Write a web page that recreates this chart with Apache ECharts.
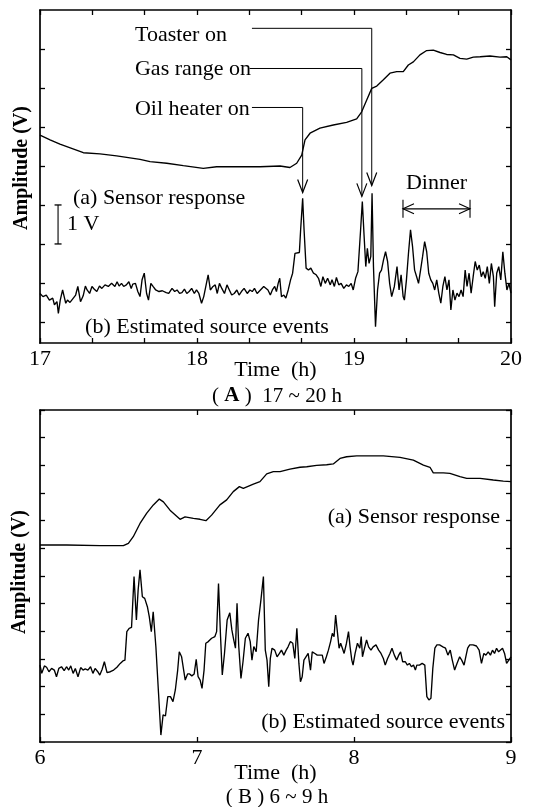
<!DOCTYPE html>
<html><head><meta charset="utf-8">
<script src="https://cdn.jsdelivr.net/npm/echarts@6/dist/echarts.min.js"></script>
<style>html,body{margin:0;padding:0;background:#fff}#c{width:533px;height:807px}</style>
</head><body><div id="c"></div>
<script>
// ---------- DATA ----------
// Panel A (17 ~ 20 h)
const topXTicks = [17, 17.3333, 17.6667, 18, 18.3333, 18.6667, 19, 19.3333, 19.6667, 20];
const topXLabels = [17, 18, 19, 20];
const topYTicks = [0, 1, 2, 3, 4, 5, 6, 7];
const topSensor = [[17.0,4.79],[17.064,4.67],[17.127,4.56],[17.276,4.34],[17.382,4.31],[17.488,4.26],[17.637,4.17],[17.701,4.11],[17.807,4.07],[17.913,4.01],[18.040,3.94],[18.125,3.98],[18.231,3.98],[18.401,3.98],[18.529,4.0],[18.592,3.96],[18.635,4.07],[18.667,4.28],[18.688,4.67],[18.720,4.84],[18.783,4.97],[18.868,5.05],[18.953,5.12],[19.017,5.21],[19.049,5.39],[19.081,5.69],[19.113,5.99],[19.145,6.05],[19.187,6.21],[19.229,6.38],[19.272,6.42],[19.314,6.42],[19.346,6.59],[19.378,6.67],[19.420,6.85],[19.463,6.96],[19.505,6.97],[19.548,6.91],[19.590,6.86],[19.633,6.85],[19.675,6.76],[19.718,6.74],[19.760,6.79],[19.803,6.80],[19.866,6.82],[19.930,6.79],[19.973,6.80],[20.0,6.72]];
const topEvents = [[17.0,0.73],[17.019,0.65],[17.040,0.69],[17.060,0.56],[17.081,0.61],[17.092,0.44],[17.108,0.52],[17.117,0.22],[17.129,0.56],[17.144,0.82],[17.154,0.65],[17.164,0.48],[17.175,0.56],[17.191,0.50],[17.206,0.58],[17.227,0.69],[17.241,0.91],[17.258,0.52],[17.275,0.67],[17.289,0.92],[17.300,0.82],[17.316,0.73],[17.331,0.91],[17.346,0.84],[17.362,0.78],[17.379,0.92],[17.394,0.86],[17.414,0.95],[17.435,0.91],[17.456,0.99],[17.477,0.91],[17.491,1.03],[17.504,0.92],[17.519,0.99],[17.533,0.91],[17.550,0.95],[17.566,1.03],[17.581,0.86],[17.591,0.97],[17.608,0.99],[17.623,0.78],[17.637,0.65],[17.650,1.08],[17.664,1.25],[17.679,0.73],[17.691,0.56],[17.706,0.99],[17.720,0.91],[17.737,0.82],[17.758,0.78],[17.779,0.80],[17.804,0.75],[17.820,0.73],[17.841,0.86],[17.858,0.78],[17.873,0.82],[17.889,0.73],[17.904,0.75],[17.920,0.84],[17.935,0.73],[17.950,0.78],[17.966,0.86],[17.983,0.73],[17.997,0.82],[18.012,0.73],[18.029,0.48],[18.043,0.65],[18.060,0.99],[18.071,1.21],[18.085,0.82],[18.102,0.91],[18.116,0.95],[18.129,0.73],[18.143,0.99],[18.158,0.86],[18.175,0.73],[18.191,0.95],[18.206,0.82],[18.221,0.69],[18.237,0.73],[18.254,0.82],[18.268,0.69],[18.283,0.78],[18.300,0.86],[18.320,0.73],[18.337,0.82],[18.352,0.78],[18.366,0.86],[18.383,0.73],[18.404,0.82],[18.425,0.91],
[18.437,0.86],[18.452,0.82],[18.467,0.69],[18.480,0.82],[18.495,0.91],[18.506,0.78],[18.517,0.99],[18.527,1.12],[18.538,0.65],[18.553,0.69],[18.566,0.61],[18.581,0.82],[18.596,1.08],[18.609,1.25],[18.624,1.76],[18.635,1.78],[18.652,1.78],[18.660,2.36],[18.673,3.17],[18.682,2.36],[18.695,1.38],[18.710,1.33],[18.725,1.38],[18.742,1.25],[18.759,1.21],[18.774,1.12],[18.789,0.91],[18.802,1.16],[18.817,0.99],[18.832,1.12],[18.849,0.95],[18.860,1.08],[18.875,0.91],[18.888,1.14],[18.903,0.95],[18.918,0.99],[18.935,0.86],[18.952,0.95],[18.967,0.91],[18.982,0.99],[18.995,0.82],[19.010,1.12],[19.025,1.29],[19.042,2.36],[19.053,3.09],[19.064,2.23],[19.075,1.42],[19.085,1.89],[19.096,1.50],[19.107,1.68],[19.115,3.30],[19.124,1.42],[19.137,-0.12],[19.150,0.82],[19.163,1.25],[19.175,1.33],[19.188,1.59],[19.201,1.80],[19.214,1.55],[19.227,0.99],[19.240,0.65],[19.257,0.91],[19.274,1.42],[19.287,0.82],[19.300,1.21],[19.313,0.65],[19.321,0.56],[19.334,1.08],[19.347,1.76],[19.360,2.36],[19.373,1.93],[19.386,1.33],[19.399,1.16],[19.411,0.99],[19.424,1.33],[19.437,1.68],[19.450,2.06],[19.463,1.80],[19.476,1.25],[19.489,1.08],[19.502,0.99],[19.514,0.82],[19.527,1.08],[19.540,0.74],[19.553,0.48],[19.566,0.91],[19.579,1.16],[19.592,0.82],[19.605,1.08],[19.617,0.31],[19.630,0.82],[19.643,0.56],[19.656,0.74],[19.669,0.65],[19.682,0.82],[19.695,0.65],[19.708,1.33],[19.720,0.91],[19.733,1.25],[19.746,0.74],[19.759,1.16],[19.772,1.55],[19.785,1.33],[19.798,1.46],[19.811,1.16],[19.823,1.29],[19.836,1.12],[19.849,1.42],[19.862,0.99],[19.875,1.50],[19.888,1.16],[19.896,0.39],[19.909,1.25],[19.922,1.42],[19.935,1.08],[19.948,1.80],[19.961,1.25],[19.974,0.82],[19.987,0.99],[20.0,0.74]];

// Panel A annotations (data coordinates: hours, volts)
const toasterPath = [[18.35,7.53],[19.113,7.53],[19.113,3.50]];
const gasPath = [[18.335,6.50],[19.05,6.50],[19.05,3.22]];
const oilPath = [[18.35,5.50],[18.673,5.50],[18.673,3.32]];
const eventLabels = [['Toaster on',17.605,7.36],['Gas range on',17.605,6.48],['Oil heater on',17.605,5.46]];
const dinnerSpan = [19.312, 19.739, 2.90];
const scaleBar = [17.115, 2.0, 3.0];

// Panel B (6 ~ 9 h)
const botXTicks = [6, 7, 8, 9];
const botSensor = [[6.0,7.12],[6.170,7.12],[6.382,7.10],[6.531,7.10],[6.563,7.18],[6.594,7.42],[6.637,7.90],[6.680,8.27],[6.722,8.57],[6.760,8.78],[6.786,8.68],[6.828,8.38],[6.892,8.05],[6.924,8.14],[6.977,8.08],[7.019,8.05],[7.057,8.00],[7.093,8.20],[7.146,8.57],[7.189,8.75],[7.231,9.05],[7.270,9.23],[7.295,9.17],[7.359,9.32],[7.401,9.41],[7.444,9.69],[7.486,9.77],[7.529,9.77],[7.592,9.86],[7.656,9.93],[7.699,9.95],[7.762,10.00],[7.826,10.02],[7.868,10.05],[7.911,10.25],[7.953,10.31],[8.017,10.34],[8.081,10.34],[8.187,10.34],[8.293,10.29],[8.378,10.19],[8.442,10.01],[8.484,9.93],[8.505,9.73],[8.569,9.73],[8.611,9.71],[8.675,9.59],[8.718,9.53],[8.803,9.53],[8.887,9.47],[8.951,9.43],[9.0,9.41]];
const botEvents = [[6.0,2.78],[6.011,2.48],[6.028,2.75],[6.042,2.70],[6.057,2.54],[6.074,2.66],[6.091,2.60],[6.105,2.36],[6.120,2.66],[6.137,2.72],[6.154,2.58],[6.169,2.72],[6.183,2.60],[6.196,2.75],[6.211,2.48],[6.225,2.66],[6.242,2.36],[6.259,2.69],[6.274,2.60],[6.288,2.64],[6.305,2.60],[6.322,2.72],[6.337,2.48],[6.351,2.66],[6.368,2.54],[6.381,2.42],[6.396,2.63],[6.410,2.90],[6.427,2.51],[6.448,2.54],[6.469,2.60],[6.490,2.70],[6.511,2.84],[6.528,2.93],[6.541,2.96],[6.553,3.99],[6.568,4.11],[6.583,4.14],[6.599,5.98],[6.614,4.41],[6.625,5.49],[6.637,6.22],[6.652,5.25],[6.667,5.19],[6.684,4.89],[6.696,4.53],[6.709,3.99],[6.721,4.71],[6.738,3.45],[6.755,1.76],[6.770,0.25],[6.784,0.98],[6.799,0.94],[6.814,1.64],[6.831,1.64],[6.847,1.46],[6.862,1.88],[6.877,2.60],[6.887,3.26],[6.902,3.08],[6.915,2.60],[6.925,2.24],[6.940,2.46],[6.953,2.46],[6.967,2.39],[6.982,2.46],[6.995,2.99],[7.007,2.36],[7.020,2.24],[7.032,1.94],[7.045,2.60],[7.056,3.57],[7.072,3.63],[7.093,3.75],[7.114,3.81],[7.125,3.99],[7.137,5.73],[7.150,3.81],[7.161,2.42],[7.175,3.20],[7.192,4.41],[7.209,4.67],[7.222,4.05],[7.234,3.69],[7.245,3.39],[7.255,5.01],[7.266,3.45],[7.280,2.30],[7.293,2.90],[7.308,3.75],[7.325,3.93],[7.339,3.63],[7.350,2.96],[7.362,3.45],[7.377,3.26],[7.392,4.41],[7.407,5.13],[7.423,5.98],
[7.435,3.32],[7.446,2.96],[7.457,2.00],[7.467,3.02],[7.478,3.39],[7.495,3.32],[7.510,3.08],[7.525,3.20],[7.538,3.32],[7.553,3.14],[7.568,3.32],[7.580,3.44],[7.595,3.63],[7.610,3.57],[7.623,3.02],[7.636,4.11],[7.649,2.84],[7.659,2.18],[7.670,2.36],[7.681,2.96],[7.691,2.90],[7.708,3.20],[7.723,2.60],[7.734,3.26],[7.751,3.20],[7.766,3.14],[7.781,3.14],[7.798,3.14],[7.809,2.84],[7.824,3.08],[7.837,3.32],[7.851,3.63],[7.862,3.93],[7.873,3.81],[7.883,4.59],[7.894,3.99],[7.905,3.39],[7.915,3.57],[7.926,3.39],[7.937,3.20],[7.952,3.57],[7.965,3.99],[7.975,3.44],[7.986,2.96],[7.994,2.78],[8.007,3.20],[8.022,3.57],[8.037,3.39],[8.046,3.81],[8.054,3.08],[8.067,3.39],[8.080,3.69],[8.093,3.44],[8.108,3.32],[8.122,3.44],[8.140,3.51],[8.157,3.32],[8.172,3.20],[8.187,3.02],[8.199,2.78],[8.214,3.02],[8.229,3.20],[8.242,3.39],[8.257,3.14],[8.272,2.96],[8.285,3.14],[8.297,3.26],[8.310,2.90],[8.327,2.90],[8.340,2.78],[8.353,2.84],[8.366,2.72],[8.379,2.78],[8.391,2.60],[8.400,2.78],[8.417,2.78],[8.434,2.84],[8.451,2.78],[8.464,1.64],[8.477,1.52],[8.490,1.58],[8.502,2.66],[8.515,3.39],[8.528,3.51],[8.545,3.51],[8.566,3.44],[8.583,3.39],[8.598,3.14],[8.613,3.32],[8.626,2.96],[8.641,2.60],[8.656,2.84],[8.673,3.08],[8.686,2.96],[8.701,2.78],[8.712,3.08],[8.724,3.39],[8.737,3.51],[8.758,3.51],[8.780,3.47],[8.797,3.32],[8.812,2.84],[8.827,3.20],[8.840,3.14],[8.855,3.26],[8.869,3.14],[8.882,3.32],[8.895,3.20],[8.908,3.39],[8.921,3.26],[8.933,3.20],[8.946,3.39],[8.959,3.20],[8.972,2.84],[9.0,3.08]];
const botLabels = [['(a) Sensor response',8.93,8.13],['(b) Estimated source events',8.962,0.72]];

// ---------- CHART ----------
const FONT = '"Liberation Serif", "Times New Roman", serif';
const chart = echarts.init(document.getElementById('c'));
const INK = '#000';
const FS = 22;

function xAx(grid, min, max, ticks, labels, pos, gap) {
  return {
    gridIndex: grid, type: 'value', min, max, position: pos,
    axisLine: {onZero: false, lineStyle: {color: INK, width: 1.7}},
    axisTick: {inside: true, length: 5, customValues: ticks, lineStyle: {color: INK, width: 1.3}},
    axisLabel: labels ? {customValues: labels, color: INK, fontFamily: FONT, fontSize: FS, margin: 5} : {show: false},
    splitLine: {show: false},
    name: labels ? 'Time  (h)' : '', nameLocation: 'middle', nameGap: gap || 16, nameMoveOverlap: false,
    nameTextStyle: {color: INK, fontFamily: FONT, fontSize: FS}
  };
}
function yAx(grid, min, max, ticks, pos) {
  return {
    gridIndex: grid, type: 'value', min, max, position: pos,
    axisLine: {show: true, onZero: false, lineStyle: {color: INK, width: 1.7}},
    axisTick: {show: true, inside: true, length: 5, customValues: ticks, lineStyle: {color: INK, width: 1.3}},
    axisLabel: {show: false}, splitLine: {show: false}
  };
}
const botYTicks = [0,1,2,3,4,5,6,7,8,9,10,11,12];

function lineSeries(data, xi, yi) {
  return {type: 'line', data, xAxisIndex: xi, yAxisIndex: yi, symbol: 'none',
    lineStyle: {color: INK, width: 1.35}, animation: false, z: 3};
}

function txt(api, str, pt, align, font) {
  const p = api.coord(pt);
  return {type: 'text', x: p[0], y: p[1], style: {text: str, font: font || (FS + 'px ' + FONT), fill: INK, align: align, verticalAlign: 'middle'}};
}
function poly(api, pts, w) {
  return {type: 'polyline', shape: {points: pts.map(q => api.coord(q))}, style: {stroke: INK, fill: null, lineWidth: w || 1}};
}
function arrowDown(api, tip) {
  const t = api.coord(tip);
  return {type: 'polyline', shape: {points: [[t[0]-5, t[1]-13], t, [t[0]+5, t[1]-13]]}, style: {stroke: INK, fill: null, lineWidth: 1.2}};
}

function renderTop(params, api) {
  const ch = [];
  [toasterPath, gasPath, oilPath].forEach(p => { ch.push(poly(api, p, 1)); ch.push(arrowDown(api, p[p.length-1])); });
  eventLabels.forEach(l => ch.push(txt(api, l[0], [l[1], l[2]], 'left')));
  // Dinner span
  const a = api.coord([dinnerSpan[0], dinnerSpan[2]]), b = api.coord([dinnerSpan[1], dinnerSpan[2]]);
  ch.push({type: 'line', shape: {x1: a[0], y1: a[1], x2: b[0], y2: b[1]}, style: {stroke: INK, lineWidth: 1.1}});
  ch.push({type: 'line', shape: {x1: a[0], y1: a[1]-9, x2: a[0], y2: a[1]+9}, style: {stroke: INK, lineWidth: 1.1}});
  ch.push({type: 'line', shape: {x1: b[0], y1: b[1]-9, x2: b[0], y2: b[1]+9}, style: {stroke: INK, lineWidth: 1.1}});
  ch.push({type: 'polyline', shape: {points: [[a[0]+11, a[1]-5], a, [a[0]+11, a[1]+5]]}, style: {stroke: INK, fill: null, lineWidth: 1.1}});
  ch.push({type: 'polyline', shape: {points: [[b[0]-11, b[1]-5], b, [b[0]-11, b[1]+5]]}, style: {stroke: INK, fill: null, lineWidth: 1.1}});
  ch.push(txt(api, 'Dinner', [(dinnerSpan[0]+dinnerSpan[1])/2, 3.56], 'center'));
  // 1 V scale bar
  const s0 = api.coord([scaleBar[0], scaleBar[1]]), s1 = api.coord([scaleBar[0], scaleBar[2]]);
  ch.push({type: 'line', shape: {x1: s0[0], y1: s0[1], x2: s1[0], y2: s1[1]}, style: {stroke: INK, lineWidth: 1.1}});
  ch.push({type: 'line', shape: {x1: s0[0]-3.5, y1: s0[1], x2: s0[0]+3.5, y2: s0[1]}, style: {stroke: INK, lineWidth: 1.3}});
  ch.push({type: 'line', shape: {x1: s1[0]-3.5, y1: s1[1], x2: s1[0]+3.5, y2: s1[1]}, style: {stroke: INK, lineWidth: 1.3}});
  ch.push(txt(api, '1 V', [17.172, 2.5], 'left'));
  ch.push(txt(api, '(a) Sensor response', [17.21, 3.18], 'left'));
  ch.push(txt(api, '(b) Estimated source events', [17.287, -0.13], 'left'));
  return {type: 'group', children: ch};
}
function renderBot(params, api) {
  return {type: 'group', children: botLabels.map(l => txt(api, l[0], [l[1], l[2]], 'right'))};
}

chart.setOption({
  animation: false,
  backgroundColor: '#fff',
  grid: [
    {left: 40, right: 22, top: 10, height: 333},
    {left: 40, right: 22, top: 410, height: 332}
  ],
  xAxis: [
    xAx(0, 17, 20, topXTicks, topXLabels, 'bottom', 16),
    xAx(0, 17, 20, topXTicks, null, 'top'),
    xAx(1, 6, 9, botXTicks, botXTicks, 'bottom', 20),
    xAx(1, 6, 9, botXTicks, null, 'top')
  ],
  yAxis: [
    yAx(0, -0.54, 8, topYTicks, 'left'),
    yAx(0, -0.54, 8, topYTicks, 'right'),
    yAx(1, 0, 12, botYTicks, 'left'),
    yAx(1, 0, 12, botYTicks, 'right')
  ],
  series: [
    lineSeries(topSensor, 0, 0),
    lineSeries(topEvents, 0, 0),
    {type: 'custom', xAxisIndex: 0, yAxisIndex: 0, data: [[17, 0]], renderItem: renderTop, silent: true, clip: false, z: 4},
    lineSeries(botSensor, 2, 2),
    lineSeries(botEvents, 2, 2),
    {type: 'custom', xAxisIndex: 2, yAxisIndex: 2, data: [[6, 0]], renderItem: renderBot, silent: true, clip: false, z: 4}
  ],
  graphic: [
    {type: 'text', x: 22, y: 168, rotation: Math.PI / 2, style: {text: 'Amplitude (V)', font: 'bold 20px ' + FONT, fill: INK, align: 'center', verticalAlign: 'middle'}},
    {type: 'text', x: 20, y: 572, rotation: Math.PI / 2, style: {text: 'Amplitude (V)', font: 'bold 20px ' + FONT, fill: INK, align: 'center', verticalAlign: 'middle'}},
    {type: 'text', x: 277, y: 396, style: {text: '( {b|A} )  17 ~ 20 h', font: '21px ' + FONT, fill: INK, align: 'center', verticalAlign: 'middle',
      rich: {b: {fontFamily: FONT, fontSize: 21, fontWeight: 'bold', fill: INK}}}},
    {type: 'text', x: 277, y: 797, style: {text: '( B ) 6 ~ 9 h', font: '21px ' + FONT, fill: INK, align: 'center', verticalAlign: 'middle'}}
  ]
});
</script></body></html>
